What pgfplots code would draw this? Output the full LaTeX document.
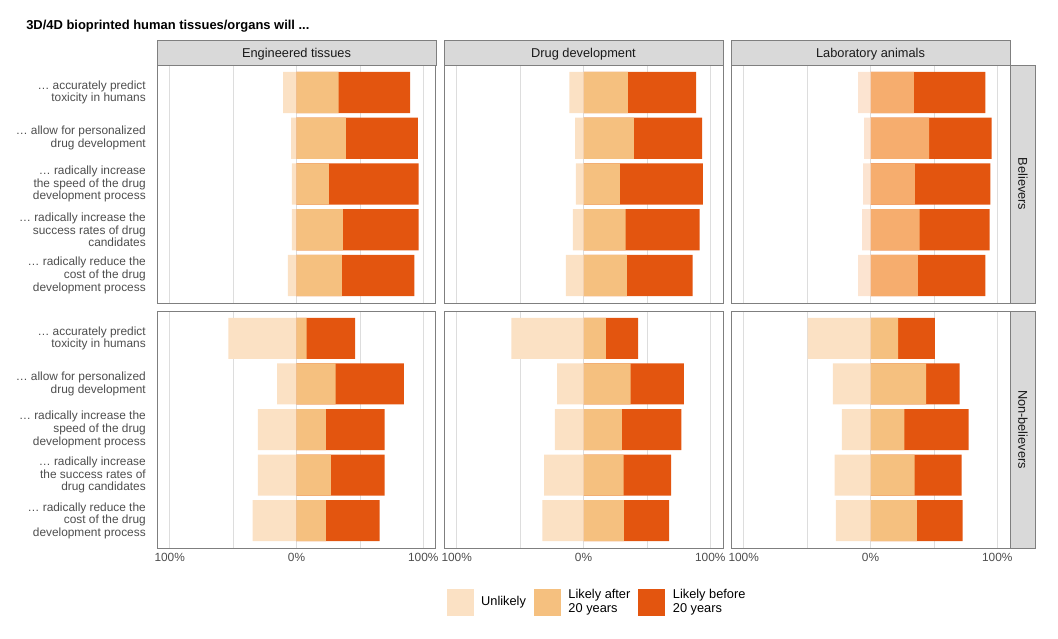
\documentclass[border=0pt]{standalone}
\usepackage{pgfplots}
\pgfplotsset{compat=1.18}
\usepackage{pgfplotstable}
\usepackage{fontspec}
\setmainfont{Liberation Sans}

\definecolor{cU}{HTML}{FBE1C4}
\definecolor{cUb}{HTML}{FCE4D1}
\definecolor{cA}{HTML}{F5C07F}
\definecolor{cAb}{HTML}{F6AD6E}
\definecolor{cB}{HTML}{E3550F}
\definecolor{gridc}{HTML}{DDDDDD}
\definecolor{framec}{HTML}{7F7F7F}
\definecolor{stripc}{HTML}{D9D9D9}
\definecolor{labc}{HTML}{4D4D4D}

% u = unlikely (drawn to the left), a = likely after 20 years, b = likely before 20 years
\pgfplotstableread{
row u a b
1 -10.5 33.2 56.3
2 -4.2 38.9 56.8
3 -3.7 25.5 70.8
4 -3.7 36.6 59.7
5 -6.8 35.8 57.1
}\believET
\pgfplotstableread{
row u a b
1 -11.1 35.0 53.9
2 -6.6 39.7 53.9
3 -6.1 28.7 65.5
4 -8.4 33.2 58.4
5 -13.9 34.2 51.8
}\believDD
\pgfplotstableread{
row u a b
1 -9.7 34.2 56.3
2 -5.0 46.3 49.2
3 -5.8 35.0 59.5
4 -6.6 38.7 55.3
5 -9.7 37.4 53.2
}\believLA
\pgfplotstableread{
row u a b
1 -53.7 7.9 38.4
2 -15.3 30.8 53.9
3 -30.5 23.2 46.3
4 -30.5 27.1 42.4
5 -34.5 23.2 42.4
}\nonET
\pgfplotstableread{
row u a b
1 -56.8 17.6 25.5
2 -20.8 37.1 42.1
3 -22.6 30.3 46.8
4 -31.1 31.6 37.4
5 -32.4 31.8 35.8
}\nonDD
\pgfplotstableread{
row u a b
1 -49.5 21.8 28.9
2 -29.7 43.9 26.3
3 -22.6 26.8 50.5
4 -28.2 34.7 37.1
5 -27.4 36.6 36.1
}\nonLA

\newcommand\bars[3]{%
  \addplot[fill=cB, draw=none, forget plot] table[y=row, x expr=\thisrow{a}+\thisrow{b}] {#1};
  \addplot[fill=#2, draw=none, forget plot] table[y=row, x=a] {#1};
  \addplot[fill=#3, draw=none, forget plot] table[y=row, x=u] {#1};
}

\pgfplotsset{
  panel/.style={
    anchor=south west, scale only axis, width=209.25pt,
    xmin=-110, xmax=110, ymin=0.4, ymax=5.6, y dir=reverse, enlargelimits=false,
    xbar, bar width=0.9, bar shift=0pt,
    xtick={-100,0,100}, minor xtick={-50,50}, xmajorgrids, xminorgrids,
    major grid style={draw=gridc, line width=0.6pt},
    minor grid style={draw=gridc, line width=0.6pt},
    ytick={1,2,3,4,5}, major tick length=0pt, minor tick length=0pt,
    tick style={draw=none},
    axis line style={draw=framec, line width=0.75pt},
    tick label style={font=\fontsize{8.9}{9.5}\selectfont, text=labc},
    yticklabel style={align=right, inner sep=0pt, xshift=-8.25pt},
    xticklabel style={inner sep=0pt, yshift=-4pt},
  },
  toprow/.style={height=178.5pt, xticklabels={,,}},
  botrow/.style={height=177.75pt, xticklabels={100\%,0\%,100\%}},
  nolab/.style={yticklabels={,,,,,}},
  sqU/.style={legend image code/.code={\fill[cU] (0pt,-9.75pt) rectangle (19.5pt,9.75pt);}},
  sqA/.style={legend image code/.code={\fill[cA] (0pt,-9.75pt) rectangle (19.5pt,9.75pt);}},
  sqB/.style={legend image code/.code={\fill[cB] (0pt,-9.75pt) rectangle (19.5pt,9.75pt);}},
}

\begin{document}
\begin{tikzpicture}
\begin{scope}[x=0.75pt, y=-0.75pt]
  \path (0,0) rectangle (1058,639);
\end{scope}

% believers
\begin{axis}[panel, toprow, at={(117.75pt,-227.25pt)},
  yticklabels={{… accurately predict\\toxicity in humans},
    {… allow for personalized\\drug development},
    {… radically increase\\the speed of the drug\\development process},
    {… radically increase the\\success rates of drug\\candidates},
    {… radically reduce the\\cost of the drug\\development process}}]
\bars{\believET}{cA}{cU}
\end{axis}
\begin{axis}[panel, toprow, nolab, at={(333pt,-227.25pt)}]
\bars{\believDD}{cA}{cU}
\end{axis}
\begin{axis}[panel, toprow, nolab, at={(548.25pt,-227.25pt)}]
\bars{\believLA}{cAb}{cUb}
\end{axis}

% non-believers
\begin{axis}[panel, botrow, at={(117.75pt,-411pt)},
  yticklabels={{… accurately predict\\toxicity in humans},
    {… allow for personalized\\drug development},
    {… radically increase the\\speed of the drug\\development process},
    {… radically increase\\the success rates of\\drug candidates},
    {… radically reduce the\\cost of the drug\\development process}}]
\bars{\nonET}{cA}{cU}
\end{axis}
\begin{axis}[panel, botrow, nolab, at={(333pt,-411pt)},
  legend columns=3,
  legend style={at={(0.545,-0.228)}, anchor=center, draw=none, fill=none,
    column sep=6pt, font=\fontsize{9.6}{10.6}\selectfont,
    nodes={inner sep=0pt}},
  legend cell align=left, legend style={cells={align=left}}]
\addlegendimage{sqU}\addlegendentry{Unlikely}
\addlegendimage{sqA}\addlegendentry{Likely after\\20 years}
\addlegendimage{sqB}\addlegendentry{Likely before\\20 years}
\bars{\nonDD}{cA}{cU}
\end{axis}
\begin{axis}[panel, botrow, nolab, at={(548.25pt,-411pt)}]
\bars{\nonLA}{cA}{cU}
\end{axis}

\begin{scope}[x=0.75pt, y=-0.75pt]
  \node[anchor=base west, inner sep=0pt, font=\bfseries\fontsize{9.7}{11}\selectfont] at (26,29)
    {3D/4D bioprinted human tissues/organs will ...};
  \foreach \x/\t in {157/Engineered tissues, 444/Drug development, 731/Laboratory animals} {
    \filldraw[fill=stripc, draw=framec, line width=0.75pt] (\x,40) rectangle ++(279,25);
    \node[anchor=base, inner sep=0pt, font=\fontsize{9.6}{11}\selectfont, text=black!90] at ({\x+139.5},57.3) {\t};
  }
  \filldraw[fill=stripc, draw=framec, line width=0.75pt] (1010,65) rectangle (1035,303);
  \node[rotate=-90, anchor=base, inner sep=0pt, font=\fontsize{9.6}{11}\selectfont, text=black!90] at (1018.3,184) {Believers};
  \filldraw[fill=stripc, draw=framec, line width=0.75pt] (1010,311) rectangle (1035,548);
  \node[rotate=-90, anchor=base, inner sep=0pt, font=\fontsize{9.6}{11}\selectfont, text=black!90] at (1018.3,429.5) {Non-believers};
\end{scope}
\end{tikzpicture}
\end{document}
